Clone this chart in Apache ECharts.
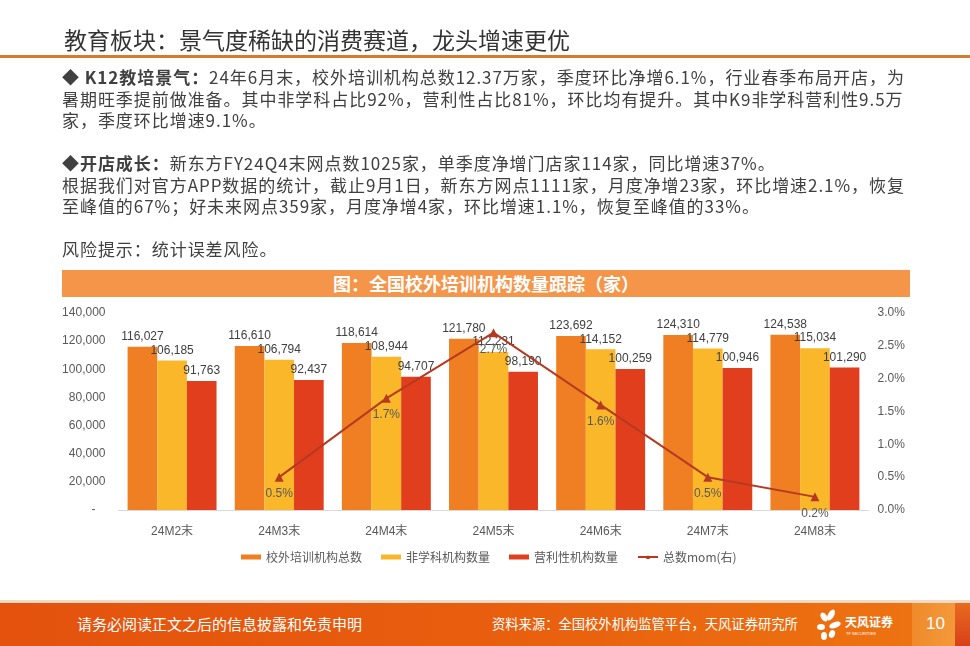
<!DOCTYPE html>
<html><head><meta charset="utf-8">
<script src="https://cdn.jsdelivr.net/npm/echarts@6/dist/echarts.min.js"></script>
<style>
html,body{margin:0;padding:0;background:#fff;}
#page{position:relative;width:970px;height:646px;overflow:hidden;font-family:"Noto Sans CJK SC","Noto Sans",sans-serif;}
#chart{position:absolute;left:0;top:0;width:970px;height:646px;}
.abs{position:absolute;white-space:nowrap;}
#title{left:64px;top:24px;font-size:23px;color:#333;letter-spacing:0px;line-height:30px;}
#rule{left:0;top:55px;width:970px;height:3px;background:#D97A2B;}
.p{left:62px;font-size:17px;letter-spacing:0.95px;color:#404040;line-height:21.5px;}
#banner{left:62px;top:270px;width:848px;height:27px;background:#F5954A;color:#fff;font-weight:bold;font-size:18px;line-height:27px;text-align:center;}
#footer{left:0;top:603px;width:970px;height:43px;background:linear-gradient(90deg,#E4520E 0%,#E85E0E 50%,#EC6E10 85%,#EE7512 100%);}
#footline{left:0;top:600px;width:970px;height:3px;background:#F6D9C4;}
.ft{color:#fff;top:614px;line-height:20px;}
#pgbox{left:912px;top:603px;width:46px;height:43px;background:linear-gradient(90deg,#F08A2A,#F39A3C);}
#pgedge{left:955px;top:603px;width:15px;height:43px;background:linear-gradient(180deg,#E86A20,#D8401A);}
</style></head>
<body><div id="page">
<div id="chart"></div>
<div id="title" class="abs">教育板块：景气度稀缺的消费赛道，龙头增速更优</div>
<div id="rule" class="abs"></div>
<div class="abs p" style="top:66px;"><b>◆ K12教培景气：</b>24年6月末，校外培训机构总数12.37万家，季度环比净增6.1%，行业春季布局开店，为</div>
<div class="abs p" style="top:87.5px;">暑期旺季提前做准备。其中非学科占比92%，营利性占比81%，环比均有提升。其中K9非学科营利性9.5万</div>
<div class="abs p" style="top:109px;">家，季度环比增速9.1%。</div>
<div class="abs p" style="top:152px;"><b>◆开店成长：</b>新东方FY24Q4末网点数1025家，单季度净增门店家114家，同比增速37%。</div>
<div class="abs p" style="top:173.5px;">根据我们对官方APP数据的统计，截止9月1日，新东方网点1111家，月度净增23家，环比增速2.1%，恢复</div>
<div class="abs p" style="top:195px;">至峰值的67%；好未来网点359家，月度净增4家，环比增速1.1%，恢复至峰值的33%。</div>
<div class="abs p" style="top:238px;">风险提示：统计误差风险。</div>
<div id="banner" class="abs">图：全国校外培训机构数量跟踪（家）</div>
<div id="footline" class="abs"></div>
<div id="footer" class="abs"></div>
<div class="abs ft" style="left:77px;font-size:15px;">请务必阅读正文之后的信息披露和免责申明</div>
<div class="abs ft" style="left:492px;font-size:13.3px;">资料来源：全国校外机构监管平台，天风证券研究所</div>
<div class="abs" style="left:815px;top:608px;">
<svg width="80" height="34" viewBox="0 0 80 34">
<ellipse cx="9" cy="9" rx="3" ry="5" fill="#fff" transform="rotate(-30 9 9)"/>
<ellipse cx="16" cy="7" rx="3" ry="6" fill="#fff" transform="rotate(30 16 7)"/>
<ellipse cx="6" cy="19" rx="4" ry="3" fill="#fff"/>
<ellipse cx="20" cy="17" rx="6" ry="3" fill="#fff" transform="rotate(-20 20 17)"/>
<ellipse cx="9" cy="28" rx="3" ry="4" fill="#fff"/>
<ellipse cx="17" cy="26" rx="3" ry="4" fill="#fff" transform="rotate(20 17 26)"/>
<text x="30" y="19" font-size="12" fill="#fff" font-family="Noto Sans CJK SC" font-weight="bold">天风证券</text>
<text x="31" y="27" font-size="4" fill="#fff" font-family="Liberation Sans">TF SECURITIES</text>
</svg></div>
<div id="pgbox" class="abs"></div>
<div id="pgedge" class="abs"></div>
<div class="abs" style="left:926px;top:612px;font-size:17px;color:#fff;font-family:'Liberation Sans',sans-serif;line-height:24px;">10</div>
</div>
<script>
const categories = ['24M2末','24M3末','24M4末','24M5末','24M6末','24M7末','24M8末'];
const totalCount = [116027,116610,118614,121780,123692,124310,124538];
const nonSubject = [106185,106794,108944,112231,114152,114779,115034];
const forProfit = [91763,92437,94707,98190,100259,100946,101290];
const momPct = [null,0.5,1.7,2.7,1.6,0.5,0.2];
const seriesNames = ['校外培训机构总数','非学科机构数量','营利性机构数量','总数mom(右)'];

const numFont = "'Liberation Sans','Noto Sans CJK SC',sans-serif";
const fmt = v => v.toLocaleString('en-US');
const barLabel = {show:true,position:'top',distance:4,color:'#404040',fontSize:12,fontFamily:numFont,formatter:p=>fmt(p.value)};
const chart = echarts.init(document.getElementById('chart'));
chart.setOption({
  animation:false,
  textStyle:{fontFamily:numFont},
  grid:{left:118.5,right:101.5,top:313,bottom:136,containLabel:false},
  legend:{left:236,top:546,itemWidth:20,itemHeight:5,itemGap:19,
    textStyle:{color:'#595959',fontSize:12,fontFamily:"'Noto Sans CJK SC',sans-serif"},
    data:[{name:seriesNames[0],icon:'rect'},{name:seriesNames[1],icon:'rect'},{name:seriesNames[2],icon:'rect'},{name:seriesNames[3]}]},
  xAxis:{type:'category',data:categories,
    axisLine:{lineStyle:{color:'#D9D9D9'}},axisTick:{show:false},
    axisLabel:{color:'#595959',fontSize:12,margin:16,fontFamily:numFont}},
  yAxis:[
    {type:'value',min:0,max:140000,interval:20000,splitLine:{show:false},axisLine:{show:false},axisTick:{show:false},
     axisLabel:{color:'#595959',fontSize:12,margin:13,formatter:v=>v===0?'-   ':fmt(v)}},
    {type:'value',min:0,max:3,interval:0.5,splitLine:{show:false},axisLine:{show:false},axisTick:{show:false},
     axisLabel:{color:'#595959',fontSize:12,margin:9,formatter:v=>v.toFixed(1)+'%'}}
  ],
  series:[
    {name:seriesNames[0],type:'bar',data:totalCount,barGap:'0%',barCategoryGap:'17%',itemStyle:{color:'#EF7F22'},label:barLabel},
    {name:seriesNames[1],type:'bar',data:nonSubject,itemStyle:{color:'#FAB729'},label:barLabel},
    {name:seriesNames[2],type:'bar',data:forProfit,itemStyle:{color:'#E03E1C'},label:barLabel},
    {name:seriesNames[3],type:'line',yAxisIndex:1,data:momPct,symbol:'triangle',symbolSize:9,
     lineStyle:{color:'#B63A22',width:2},itemStyle:{color:'#B63A22'},
     label:{show:true,position:'bottom',distance:6,color:'#595959',fontSize:12,fontFamily:numFont,formatter:p=>p.value.toFixed(1)+'%'}}
  ]
});
</script>
</body></html>
